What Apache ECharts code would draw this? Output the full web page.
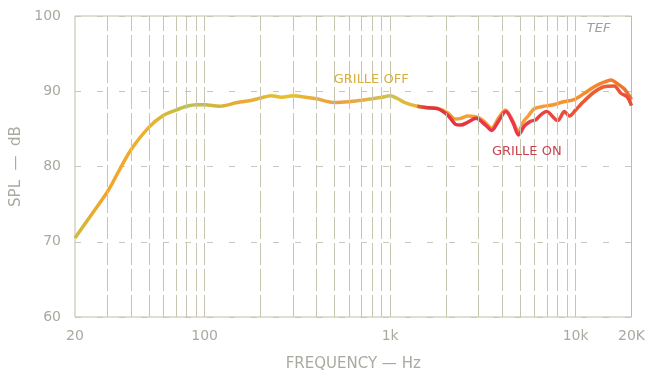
<!DOCTYPE html>
<html>
<head>
<meta charset="utf-8">
<script src="https://cdn.jsdelivr.net/npm/echarts@6/dist/echarts.min.js"></script>
<style>
  html, body { margin: 0; padding: 0; background: #ffffff; }
  #chart { width: 648px; height: 377px; }
</style>
</head>
<body>
<div id="chart"></div>
<script>
// Frequency response, grille off (full band) and grille on (upper band)
const offFreq = [20, 25, 30, 35, 40, 50, 60, 70, 80, 90, 100, 120, 150, 180, 200, 230, 260, 300, 350, 400, 500, 600, 700, 800, 900, 1000, 1100, 1200, 1400, 1600, 1800, 2050, 2250, 2400, 2630, 3000, 3270, 3520, 3830, 4180, 4510, 4920, 5240, 5580, 6000, 6700, 7600, 8600, 9800, 11100, 12600, 14200, 15500, 16800, 18300, 20000];
const offLevel = [70.5, 73.9, 76.7, 79.7, 82.2, 85.2, 86.8, 87.5, 88.0, 88.2, 88.2, 88.0, 88.5, 88.8, 89.1, 89.4, 89.2, 89.4, 89.2, 89.0, 88.5, 88.6, 88.8, 89.0, 89.2, 89.4, 89.0, 88.5, 88.0, 87.8, 87.7, 87.1, 86.3, 86.4, 86.7, 86.5, 85.8, 85.1, 86.4, 87.5, 86.4, 84.7, 86.0, 86.8, 87.7, 88.0, 88.2, 88.6, 88.9, 89.7, 90.6, 91.2, 91.5, 91.0, 90.3, 88.9];

const onFreq = [1400, 1600, 1800, 2050, 2250, 2400, 2630, 2900, 3270, 3520, 3830, 4200, 4600, 4920, 5300, 5700, 6100, 6440, 6960, 8000, 8700, 9250, 10000, 11000, 12600, 14200, 16100, 17600, 18900, 20000];
const onLevel = [88.0, 87.8, 87.7, 86.8, 85.6, 85.5, 85.9, 86.4, 85.5, 84.8, 86.0, 87.3, 85.8, 84.2, 85.4, 86.0, 86.2, 86.8, 87.3, 86.1, 87.3, 86.7, 87.5, 88.6, 89.9, 90.6, 90.7, 89.7, 89.3, 88.1];

// Log grid lines across the frequency range
const gridFreq = [30, 40, 50, 60, 70, 80, 90, 100, 200, 300, 400, 500, 600, 700, 800, 900, 1000, 2000, 3000, 4000, 5000, 6000, 7000, 8000, 9000, 10000];
const freqTicks = [20, 100, 1000, 10000, 20000];
const freqTickText = ['20', '100', '1k', '10k', '20K'];

const chart = echarts.init(document.getElementById('chart'));
const textGray = '#aaa9a0';
const gridGray = '#c6c6b0';

const pairs = (xs, ys) => xs.map((x, i) => [x, ys[i]]);

chart.setOption({
  animation: false,
  grid: { left: 75, right: 14, top: 16, bottom: 55, show: true, borderColor: '#bdbda6', borderWidth: 1 },
  xAxis: {
    type: 'log', logBase: 10, min: 20, max: 20000,
    name: 'FREQUENCY — Hz', nameLocation: 'middle', nameGap: 40,
    nameTextStyle: { color: textGray, fontFamily: 'DejaVu Sans', fontSize: 15 },
    axisLine: { show: false },
    axisTick: { show: false },
    splitLine: { show: false },
    axisLabel: {
      customValues: freqTicks,
      color: textGray, fontFamily: 'DejaVu Sans', fontSize: 14, margin: 12,
      formatter: v => freqTickText[freqTicks.indexOf(Math.round(v))] ?? ''
    }
  },
  yAxis: {
    type: 'value', min: 60, max: 100, interval: 10,
    name: 'SPL  —  dB', nameLocation: 'middle', nameGap: 50,
    nameTextStyle: { color: textGray, fontFamily: 'DejaVu Sans', fontSize: 15 },
    axisLine: { show: false },
    axisTick: { show: false },
    axisLabel: { color: textGray, fontFamily: 'DejaVu Sans', fontSize: 14, margin: 14 },
    splitLine: { show: true, lineStyle: { color: '#c8c8b8', type: [6, 16], width: 1 } }
  },
  series: [
    {
      name: 'grid', type: 'line', data: [], silent: true,
      markLine: {
        silent: true, symbol: 'none', label: { show: false },
        lineStyle: { color: gridGray, type: [22, 4], width: 1 },
        data: gridFreq.map(f => ({ xAxis: f }))
      },
      markPoint: {
        silent: true, symbol: 'circle', symbolSize: 0,
        data: [
          { coord: [790, 91.5], label: { show: true, position: 'inside', formatter: 'GRILLE OFF', color: '#d8b040', fontFamily: 'DejaVu Sans', fontSize: 13 } },
          { coord: [5450, 82.0], label: { show: true, position: 'inside', formatter: 'GRILLE ON', color: '#c84450', fontFamily: 'DejaVu Sans', fontSize: 13 } },
          { coord: [13300, 98.3], label: { show: true, position: 'inside', formatter: 'TEF', color: '#a0a098', fontFamily: 'DejaVu Sans', fontStyle: 'italic', fontSize: 13 } }
        ]
      }
    },
    {
      name: 'Grille off', type: 'line', smooth: 0.3, showSymbol: false,
      data: pairs(offFreq, offLevel),
      lineStyle: {
        width: 3.5,
        color: new echarts.graphic.LinearGradient(0, 0, 1, 0, [
          { offset: 0, color: '#ccbc40' },
          { offset: 0.06, color: '#f4a428' },
          { offset: 0.13, color: '#eeb030' },
          { offset: 0.21, color: '#bcc244' },
          { offset: 0.3, color: '#eca834' },
          { offset: 0.38, color: '#e4c22c' },
          { offset: 0.47, color: '#f09c44' },
          { offset: 0.56, color: '#d0c24c' },
          { offset: 0.63, color: '#ecb030' },
          { offset: 0.68, color: '#f4a030' },
          { offset: 0.8, color: '#f4a03c' },
          { offset: 0.92, color: '#f48c2c' },
          { offset: 1, color: '#ec6c30' }
        ])
      }
    },
    {
      name: 'Grille on', type: 'line', smooth: 0.3, showSymbol: false,
      data: pairs(onFreq, onLevel),
      lineStyle: {
        width: 3.5,
        color: new echarts.graphic.LinearGradient(0, 0, 1, 0, [
          { offset: 0, color: '#e86a3c' },
          { offset: 0.06, color: '#e0343c' },
          { offset: 0.3, color: '#e83446' },
          { offset: 0.5, color: '#ec3a4c' },
          { offset: 0.65, color: '#e84a3c' },
          { offset: 0.85, color: '#ee6030' },
          { offset: 1, color: '#e84a3c' }
        ])
      }
    }
  ]
});
</script>
</body>
</html>
